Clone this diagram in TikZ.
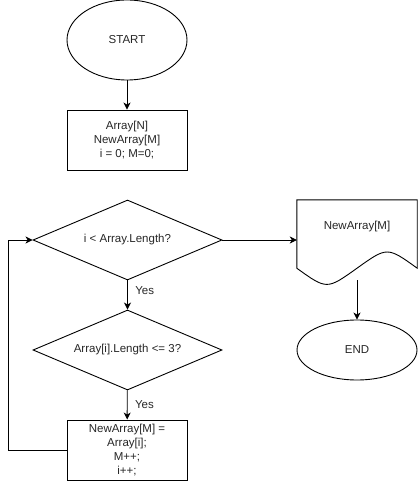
\documentclass[tikz,border=0pt]{standalone}
\usepackage{fontspec}
\setmainfont{Liberation Sans}
\usetikzlibrary{shapes.geometric,arrows.meta}
\begin{document}
\begin{tikzpicture}[x=1pt,y=-1pt,
  every node/.style={font=\fontsize{11.5}{14}\selectfont, text=black!85},
  ln/.style={line width=0.9pt, draw=black},
  arr/.style={ln, -{Stealth[length=7pt,width=7pt,inset=2pt]}},
  term/.style={ellipse, ln, minimum width=120pt, inner sep=0pt},
  proc/.style={rectangle, ln, minimum width=120pt, minimum height=60pt, align=center, inner sep=0pt},
  dec/.style={diamond, ln, aspect=2.36, minimum width=189pt, minimum height=80pt, inner sep=0pt},
  lbl/.style={font=\fontsize{11.5}{14}\selectfont}
]
\useasboundingbox (0,0) rectangle (418,481);
\node[term, minimum height=80pt] (start) at (127,40) {START};
\node[proc] (init) at (127,140) {Array[N]\\NewArray[M]\\i = 0; M=0;};
\node[dec] (d1) at (127.5,240) {i < Array.Length?};
\node[dec] (d2) at (127.5,350) {Array[i].Length <= 3?};
\node[proc] (body) at (127,450) {NewArray[M] =\\Array[i];\\M++;\\i++;};
\node[rectangle, draw=none, minimum width=120pt, minimum height=80pt, inner sep=0pt] (doc) at (357,240) {};
\draw[ln] (doc.north west) -- (doc.north east) -- ([yshift=12pt]doc.south east)
  .. controls ([xshift=-30pt,yshift=33.6pt]doc.south east) .. ([yshift=12pt]doc.south)
  .. controls ([xshift=30pt,yshift=-9.6pt]doc.south west) .. ([yshift=12pt]doc.south west) -- cycle;
\node at (357,227) {NewArray[M]};
\node[term, minimum height=60pt] (end) at (357,350) {END};
\coordinate (c1) at (8,450);
\coordinate (c2) at (8,240);
\draw[arr] (start) -- (init);
\draw[arr] (d1) -- node[lbl, right=4pt, pos=0.35] {Yes} (d2);
\draw[arr] (d2) -- node[lbl, right=4pt, pos=0.5] {Yes} (body);
\draw[arr] (body.west) -- (c1) -- (c2) -- (d1.west);
\draw[arr] (d1.east) -- (doc.west);
\draw[arr] (doc.south) -- (end);
\end{tikzpicture}
\end{document}
